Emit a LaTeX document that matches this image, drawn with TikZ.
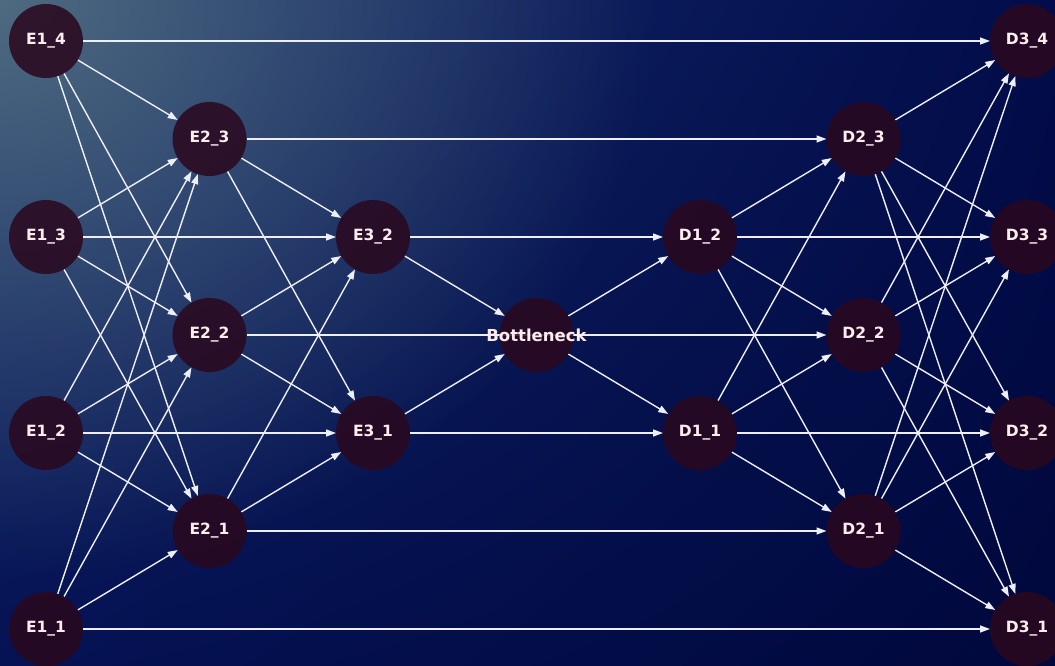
\documentclass[tikz,border=0pt]{standalone}
\usepackage{fontspec}
\setmainfont{DejaVu Sans}
\usetikzlibrary{arrows.meta,fadings,shadings}

% colours
\definecolor{bgUL}{RGB}{22,46,112}
\definecolor{bgUR}{RGB}{2,12,74}
\definecolor{bgLL}{RGB}{5,18,84}
\definecolor{bgLR}{RGB}{0,8,60}
\definecolor{glowc}{RGB}{92,122,132}
\definecolor{nodec}{RGB}{42,8,30}
\definecolor{linkc}{RGB}{238,238,246}
\definecolor{labelc}{RGB}{255,236,236}

% radial fading: opaque in the middle, clear at the rim
\tikzfading[name=glowfade, inner color=transparent!0, outer color=transparent!100]

\pgfdeclarelayer{backdrop}
\pgfdeclarelayer{links}
\pgfsetlayers{backdrop,links,main}

\tikzset{
  unit/.style={circle, fill=nodec, fill opacity=0.86, text opacity=1,
    minimum size=74pt, inner sep=0pt, outer sep=0pt, text=labelc,
    font=\bfseries\fontsize{15.5}{18}\selectfont},
  caption/.style={text=labelc, inner sep=0pt,
    font=\bfseries\fontsize{16.5}{19}\selectfont},
  link/.style={draw=linkc, line width=1.4pt,
    -{Triangle[length=10pt,width=7pt]}}
}

\begin{document}
\begin{tikzpicture}[x=1pt,y=-1pt]
\useasboundingbox (0,0) rectangle (1055,666);

% backdrop: dark navy with a soft glow in the upper left corner
\begin{pgfonlayer}{backdrop}
  \shade[upper left=bgUL, upper right=bgUR, lower left=bgLL, lower right=bgLR]
    (0,0) rectangle (1055,666);
  \begin{scope}
    \clip (0,0) rectangle (1055,666);
    \fill[glowc, fill opacity=0.8, path fading=glowfade]
      (0,0) ellipse [x radius=660pt, y radius=580pt];
  \end{scope}
\end{pgfonlayer}

% encoder
\node[unit] (e14) at (46,41)  {E1\_4};
\node[unit] (e13) at (46,237) {E1\_3};
\node[unit] (e12) at (46,433) {E1\_2};
\node[unit] (e11) at (46,629) {E1\_1};
\node[unit] (e23) at (209.5,139) {E2\_3};
\node[unit] (e22) at (209.5,335) {E2\_2};
\node[unit] (e21) at (209.5,531) {E2\_1};
\node[unit] (e32) at (373,237) {E3\_2};
\node[unit] (e31) at (373,433) {E3\_1};
% bottleneck: fixed-size disc, its label may run past the rim
\node[unit] (bn)  at (536.5,335) {};
\node[caption] (bntext) at (bn) {Bottleneck};
% decoder
\node[unit] (d12) at (700,237) {D1\_2};
\node[unit] (d11) at (700,433) {D1\_1};
\node[unit] (d23) at (863.5,139) {D2\_3};
\node[unit] (d22) at (863.5,335) {D2\_2};
\node[unit] (d21) at (863.5,531) {D2\_1};
\node[unit] (d34) at (1027,41)  {D3\_4};
\node[unit] (d33) at (1027,237) {D3\_3};
\node[unit] (d32) at (1027,433) {D3\_2};
\node[unit] (d31) at (1027,629) {D3\_1};

% connections
\begin{pgfonlayer}{links}
  \foreach \s/\t in {
      e14/d34, e14/e23, e14/e22, e14/e21,
      e13/e23, e13/e22, e13/e21, e13/e32,
      e12/e23, e12/e22, e12/e21, e12/e31,
      e11/e23, e11/e22, e11/e21, e11/d31,
      e23/e32, e23/e31, e23/d23,
      e22/e32, e22/e31, e22/d22,
      e21/e32, e21/e31, e21/d21,
      e32/bn, e32/d12, e31/bn, e31/d11,
      bn/d12, bn/d11,
      d12/d23, d12/d22, d12/d21, d12/d33,
      d11/d23, d11/d22, d11/d21, d11/d32,
      d23/d34, d23/d33, d23/d32, d23/d31,
      d22/d34, d22/d33, d22/d32, d22/d31,
      d21/d34, d21/d33, d21/d32, d21/d31}
    \draw[link] (\s) -- (\t);
\end{pgfonlayer}
\end{tikzpicture}
\end{document}
